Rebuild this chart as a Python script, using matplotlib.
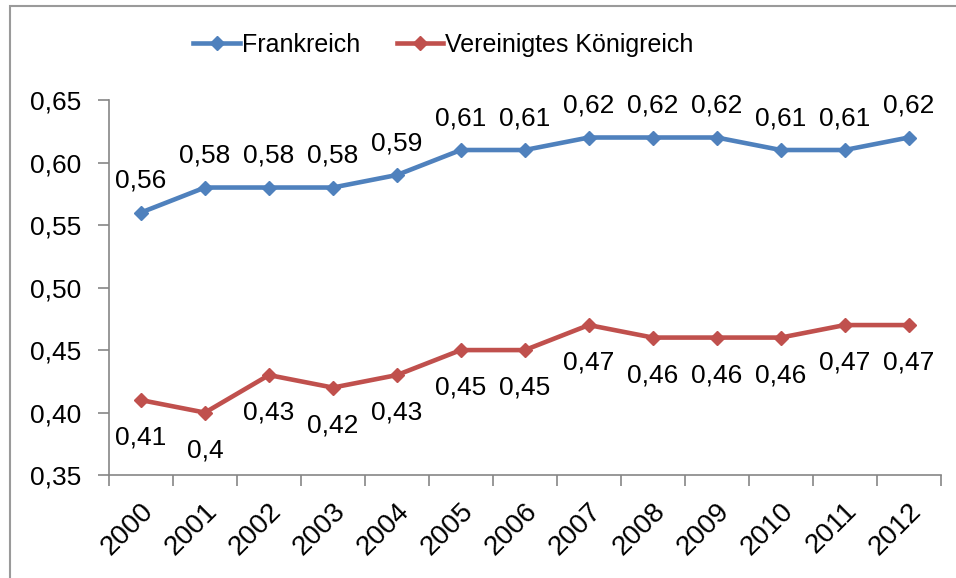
import matplotlib
matplotlib.use("Agg")
import matplotlib.pyplot as plt
import matplotlib.transforms as mtransforms
import numpy as np
from matplotlib.patches import Rectangle

years = ["2000", "2001", "2002", "2003", "2004", "2005", "2006",
         "2007", "2008", "2009", "2010", "2011", "2012"]
frankreich = [0.56, 0.58, 0.58, 0.58, 0.59, 0.61, 0.61,
              0.62, 0.62, 0.62, 0.61, 0.61, 0.62]
vereinigtes_koenigreich = [0.41, 0.40, 0.43, 0.42, 0.43, 0.45, 0.45,
                           0.47, 0.46, 0.46, 0.46, 0.47, 0.47]

blau = "#4F81BD"
rot = "#C0504D"
grau = "#868686"
fs = 19

plt.rcParams["font.family"] = ["Liberation Sans", "DejaVu Sans"]


def komma(v):
    # deutsche Schreibweise, ohne überflüssige Nullen
    return ("%.2f" % v).rstrip("0").replace(".", ",")


fig = plt.figure(figsize=(9.56, 5.78), dpi=100)
ax = fig.add_axes([0.114, 0.178, 0.870, 0.649])

x = np.arange(len(years))
ax.plot(x, frankreich, color=blau, lw=3.3, marker="D", ms=7, label="Frankreich")
ax.plot(x, vereinigtes_koenigreich, color=rot, lw=3.3, marker="D", ms=7,
        label="Vereinigtes Königreich")

for xi, v in zip(x, frankreich):
    ax.annotate(komma(v), (xi, v), xytext=(0, 23), textcoords="offset points",
                ha="center", va="center", fontsize=fs)
for xi, v in zip(x, vereinigtes_koenigreich):
    ax.annotate(komma(v), (xi, v), xytext=(0, -27), textcoords="offset points",
                ha="center", va="center", fontsize=fs)

ax.set_xlim(-0.5, len(years) - 0.5)
ax.set_ylim(0.35, 0.65)
yt = np.arange(0.35, 0.651, 0.05)
ax.set_yticks(yt)
ax.set_yticklabels([("%.2f" % t).replace(".", ",") for t in yt])

# Striche zwischen den Kategorien, Beschriftung in der Mitte
ax.set_xticks(np.arange(-0.5, len(years), 1.0))
ax.set_xticklabels([])
ax.set_xticks(x, minor=True)
ax.set_xticklabels(years, minor=True, rotation=45, ha="right", va="center",
                   rotation_mode="anchor", fontsize=20)
ax.tick_params(axis="x", which="minor", length=0, pad=23)
ax.tick_params(axis="x", which="major", length=8, color=grau, width=1.2)
ax.tick_params(axis="y", length=8, color=grau, width=1.2, labelsize=fs, pad=12)

# Jahreszahlen etwas nach rechts schieben
verschiebung = mtransforms.ScaledTranslation(6 / 72, 0, fig.dpi_scale_trans)
for lbl in ax.get_xticklabels(minor=True):
    lbl.set_transform(lbl.get_transform() + verschiebung)

for s in ["top", "right"]:
    ax.spines[s].set_visible(False)
for s in ["left", "bottom"]:
    ax.spines[s].set_color(grau)
    ax.spines[s].set_linewidth(1.2)

fig.legend(loc="center", bbox_to_anchor=(0.464, 0.922), ncol=2, frameon=False,
           fontsize=18, handlelength=1.85, handletextpad=0.1, columnspacing=1.45)

# Rahmen um das Diagramm
fig.patches.append(Rectangle((10 / 956, -0.1), 1.2, 1.1 - 6 / 578,
                             transform=fig.transFigure, fill=False,
                             edgecolor="#9A9A9A", lw=1.5))

fig.savefig("out.png", dpi=100)
